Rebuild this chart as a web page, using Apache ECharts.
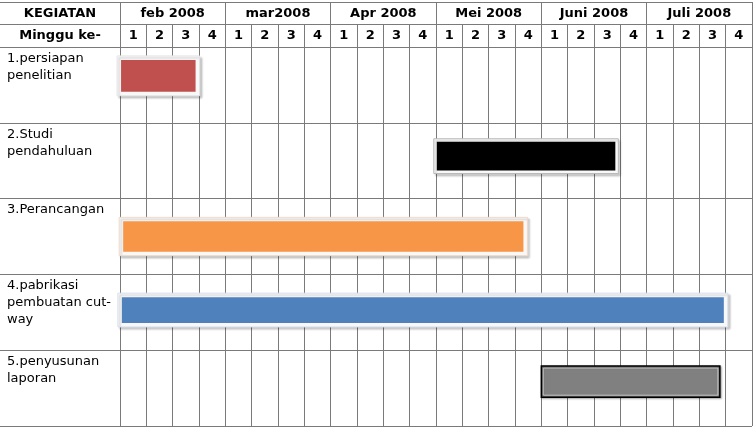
<!DOCTYPE html>
<html>
<head>
<meta charset="utf-8">
<script src="https://cdn.jsdelivr.net/npm/echarts@6/dist/echarts.min.js"></script>
<style>
  html, body { margin: 0; padding: 0; background: #fff; }
  #main { width: 755px; height: 430px; }
</style>
</head>
<body>
<div id="main"></div>
<script>
// jadwal kegiatan (Gantt), satuan = minggu sejak feb 2008 minggu 1
var headLabels = ['KEGIATAN', 'Minggu ke-'];
var months = ['feb 2008', 'mar2008', 'Apr 2008', 'Mei 2008', 'Juni 2008', 'Juli 2008'];
var weekLabels = ['1', '2', '3', '4'];
var tasks = [
  '1.persiapan\npenelitian',
  '2.Studi\npendahuluan',
  '3.Perancangan',
  '4.pabrikasi\npembuatan cut-\nway',
  '5.penyusunan\nlaporan'
];
var startWeek = [0.04, 12.03, 0.12, 0.07, 16.0];
var endWeek = [2.87, 18.81, 15.32, 22.93, 22.78];

// tampilan tiap batang (bukan data)
var barStyles = [
  { color: '#C0504D', top: 0.17, bottom: 0.59, pad: 4, stroke: '#e6e6e6', lw: 1 },
  { color: '#000000', top: 0.25, bottom: 0.63, pad: 3, stroke: '#b8b8b8', lw: 1 },
  { color: '#F79646', top: 0.30, bottom: 0.70, pad: 4, stroke: '#efd9c8', lw: 1 },
  { color: '#4F81BD', top: 0.30, bottom: 0.64, pad: 4, stroke: '#d8e0ee', lw: 1 },
  { color: '#808080', top: 0.21, bottom: 0.62, pad: 0, stroke: '#000000', lw: 1.5 }
];

var weeks = [];
months.forEach(function () { weeks = weeks.concat(weekLabels); });

var lineColor = '#7a7a7a';
var font = 'DejaVu Sans';
var hidden = { show: false };

var chart = echarts.init(document.getElementById('main'));

function renderBar(params, api) {
  var row = api.value(2);
  var st = barStyles[row];
  var p0 = api.coord([api.value(0), row + st.top]);
  var p1 = api.coord([api.value(1), row + st.bottom]);
  var x = p0[0], y = p0[1], w = p1[0] - p0[0], h = p1[1] - p0[1];
  var children = [];
  if (st.pad > 0) {
    children.push({
      type: 'rect',
      shape: { x: x - st.pad, y: y - st.pad, width: w + st.pad * 2, height: h + st.pad * 2 },
      style: {
        fill: '#f8f8f8', stroke: st.stroke, lineWidth: st.lw,
        shadowBlur: 2, shadowOffsetX: 2, shadowOffsetY: 2, shadowColor: 'rgba(0,0,0,0.2)'
      }
    });
    children.push({ type: 'rect', shape: { x: x, y: y, width: w, height: h }, style: { fill: st.color } });
  } else {
    children.push({
      type: 'rect',
      shape: { x: x, y: y, width: w, height: h },
      style: {
        fill: st.color, stroke: st.stroke, lineWidth: st.lw,
        shadowBlur: 2, shadowOffsetX: 1, shadowOffsetY: 1, shadowColor: 'rgba(0,0,0,0.3)'
      }
    });
    children.push({
      type: 'rect',
      shape: { x: x + 2, y: y + 2, width: w - 4, height: h - 4 },
      style: { fill: 'none', stroke: '#fff', lineWidth: 1, opacity: 0.5 }
    });
  }
  return { type: 'group', children: children };
}

var option = {
  animation: false,
  backgroundColor: '#fff',
  textStyle: { fontFamily: font },
  grid: [
    { left: 0, top: 2, width: 120, height: 45 },          // kepala kiri
    { left: 120, top: 2, right: 3, height: 45 },          // kepala bulan/minggu
    { left: 0, top: 47, right: 3, bottom: 4 },            // baris kegiatan
    { left: 120, top: 47, right: 3, bottom: 4 }           // area minggu
  ],
  xAxis: [
    { gridIndex: 0, type: 'value', min: 0, max: 1, show: false },
    {
      gridIndex: 1, type: 'category', position: 'top', data: months,
      axisLine: { show: true, lineStyle: { color: lineColor } },
      axisTick: hidden,
      splitLine: { show: true, lineStyle: { color: lineColor } },
      axisLabel: { inside: true, margin: 12, verticalAlign: 'middle', color: '#000', fontWeight: 'bold', fontSize: 13, fontFamily: font }
    },
    {
      gridIndex: 1, type: 'category', position: 'bottom', data: weeks,
      axisLine: { show: true, lineStyle: { color: lineColor } },
      axisTick: { show: true, inside: true, length: 23, lineStyle: { color: lineColor } },
      axisLabel: { inside: true, margin: 11, verticalAlign: 'middle', color: '#000', fontWeight: 'bold', fontSize: 13, fontFamily: font }
    },
    { gridIndex: 2, type: 'value', min: 0, max: 1, show: false },
    {
      gridIndex: 3, type: 'value', min: 0, max: 24, interval: 1,
      axisLine: hidden, axisTick: hidden, axisLabel: hidden,
      splitLine: { show: true, lineStyle: { color: lineColor } }
    }
  ],
  yAxis: [
    {
      gridIndex: 0, type: 'category', inverse: true, data: headLabels,
      axisLine: hidden, axisTick: hidden,
      splitLine: { show: true, lineStyle: { color: lineColor } },
      axisLabel: { inside: true, margin: 60, align: 'center', color: '#000', fontWeight: 'bold', fontSize: 13, fontFamily: font }
    },
    {
      gridIndex: 1, type: 'value', min: 0, max: 2, interval: 1,
      axisLine: hidden, axisTick: hidden, axisLabel: hidden,
      splitLine: { show: true, lineStyle: { color: lineColor } }
    },
    {
      gridIndex: 2, type: 'value', min: 0, max: 5, interval: 1, inverse: true,
      axisLine: hidden, axisTick: hidden,
      splitLine: { show: true, lineStyle: { color: lineColor } },
      axisLabel: {
        inside: true, margin: 7, align: 'left', verticalAlign: 'top', padding: [3, 0, 0, 0],
        lineHeight: 17, color: '#000', fontSize: 13, fontFamily: font,
        formatter: function (v) { return tasks[v] || ''; }
      }
    },
    {
      gridIndex: 3, type: 'value', min: 0, max: 5, inverse: true, show: false
    }
  ],
  series: [
    {
      type: 'custom',
      xAxisIndex: 4,
      yAxisIndex: 3,
      renderItem: renderBar,
      encode: { x: [0, 1], y: 2 },
      data: tasks.map(function (t, i) { return [startWeek[i], endWeek[i], i]; })
    }
  ]
};

chart.setOption(option);
</script>
</body>
</html>
